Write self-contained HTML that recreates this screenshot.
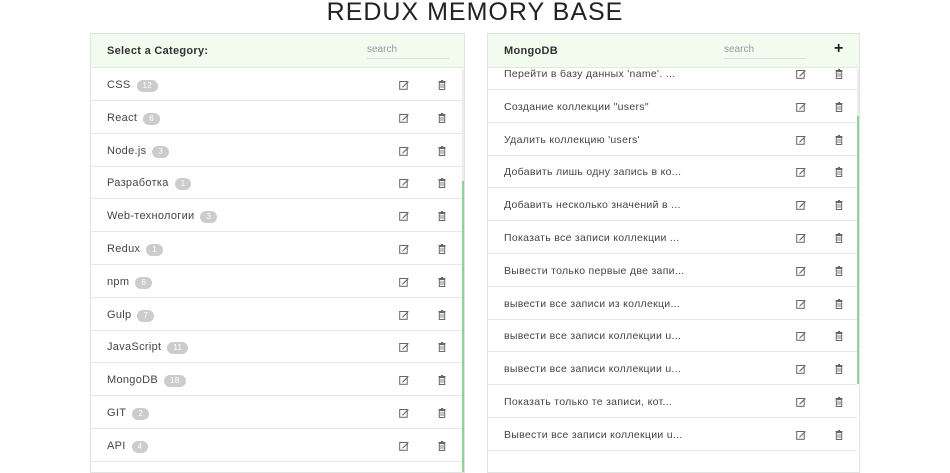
<!DOCTYPE html>
<html><head><meta charset="utf-8"><style>
*{margin:0;padding:0;box-sizing:border-box}
body{width:950px;height:462px;background:#fff;position:relative;overflow:hidden;font-family:"Liberation Sans","DejaVu Sans",sans-serif;color:#444}
.title{position:absolute;left:0;width:950px;top:-2px;text-align:center;font-size:25px;letter-spacing:1px;color:#222}
.panel{position:absolute;top:33px;height:440px;border:1px solid #e2e2e2;overflow:hidden}
.hdr{position:absolute;left:0;right:0;top:0;height:34px;background:#f1fbee;border-bottom:1px solid #e2e8e0}
.hdr .t{position:absolute;left:16px;top:11px;font-size:11px;font-weight:bold;color:#333;letter-spacing:.3px}
.hdr .s{position:absolute;top:10px;font-size:10px;color:#999;border-bottom:1px solid #ddd;padding-bottom:3px}
.row{position:absolute;left:0;height:33px;border-bottom:1px solid #e6e6e6;font-size:11px;line-height:34px;color:#444}
.row .n{position:absolute;left:16px;letter-spacing:.3px}
.b{display:inline-block;background:#ccc;color:#fff;border-radius:7px;font-size:8px;line-height:12px;height:12px;padding:0 6px;margin-left:6px;vertical-align:0px}
.ic{position:absolute;top:12px}
</style></head><body>
<div class="title">REDUX MEMORY BASE</div>
<svg width="0" height="0" style="position:absolute"><defs>
<symbol id="ed" viewBox="0 0 10 10"><rect x="0.7" y="1.5" width="7.5" height="7.8" fill="none" stroke="#666" stroke-width="1"/><path d="M3.5 6.5 L9 1 L9.8 1.8 L4.3 7.3 L3.2 7.6Z" fill="#666"/></symbol>
<symbol id="tr" viewBox="0 0 10 10"><rect x="1.5" y="1" width="7" height="1" fill="#666"/><rect x="4" y="0" width="2" height="1" fill="#666"/><rect x="2.3" y="2.5" width="5.4" height="7" fill="none" stroke="#666" stroke-width="1"/><path d="M4 3.8V8M6 3.8V8" stroke="#666" stroke-width=".8"/></symbol>
</defs></svg>

<div class="panel" style="left:90px;width:375px">
<div class="hdr"><div class="t">Select a Category:</div><div class="s" style="left:276px;width:82px">search</div></div>
<div style="position:absolute;left:371px;top:35px;width:2px;height:112px;background:#ececec"></div>
<div style="position:absolute;left:371px;top:147px;width:2px;height:300px;background:#8fd39b"></div>
<div id="L"></div>
</div>

<div class="panel" style="left:487px;width:373px">
<div class="hdr"><div class="t">MongoDB</div><div class="s" style="left:236px;width:82px">search</div><div style="position:absolute;left:346px;top:6px;font-size:16px;font-weight:bold;color:#222">+</div></div>
<div style="position:absolute;left:369px;top:35px;width:2px;height:47px;background:#ececec"></div>
<div style="position:absolute;left:369px;top:82px;width:2px;height:268px;background:#8fd39b"></div>
<div id="R"></div>
</div>

<script>
var L=[["CSS",12],["React",6],["Node.js",3],["Разработка",1],["Web-технологии",3],["Redux",1],["npm",6],["Gulp",7],["JavaScript",11],["MongoDB",18],["GIT",2],["API",4]];
var h="";
L.forEach(function(r,i){var y=34+i*32.8;
h+='<div class="row" style="top:'+y+'px;width:371px"><span class="n">'+r[0]+'<span class="b">'+r[1]+'</span></span><svg class="ic" style="left:308px" width="10" height="10"><use href="#ed"/></svg><svg class="ic" style="left:346px" width="10" height="10"><use href="#tr"/></svg></div>';});
document.getElementById("L").innerHTML=h;
var R=["Перейти в базу данных 'name'. ...","Создание коллекции \"users\"","Удалить коллекцию 'users'","Добавить лишь одну запись в ко...","Добавить несколько значений в ...","Показать все записи коллекции ...","Вывести только первые две запи...","вывести все записи из коллекци...","вывести все записи коллекции u...","вывести все записи коллекции u...","Показать только те записи, кот...","Вывести все записи коллекции u...",""];
h="";
R.forEach(function(t,i){var y=23+i*32.8;
h+='<div class="row" style="top:'+y+'px;width:369px;font-size:10.5px"><span class="n">'+t+'</span>'+(t?'<svg class="ic" style="left:308px" width="10" height="10"><use href="#ed"/></svg><svg class="ic" style="left:346px" width="10" height="10"><use href="#tr"/></svg>':'')+'</div>';});
document.getElementById("R").innerHTML=h;
</script>
</body></html>
